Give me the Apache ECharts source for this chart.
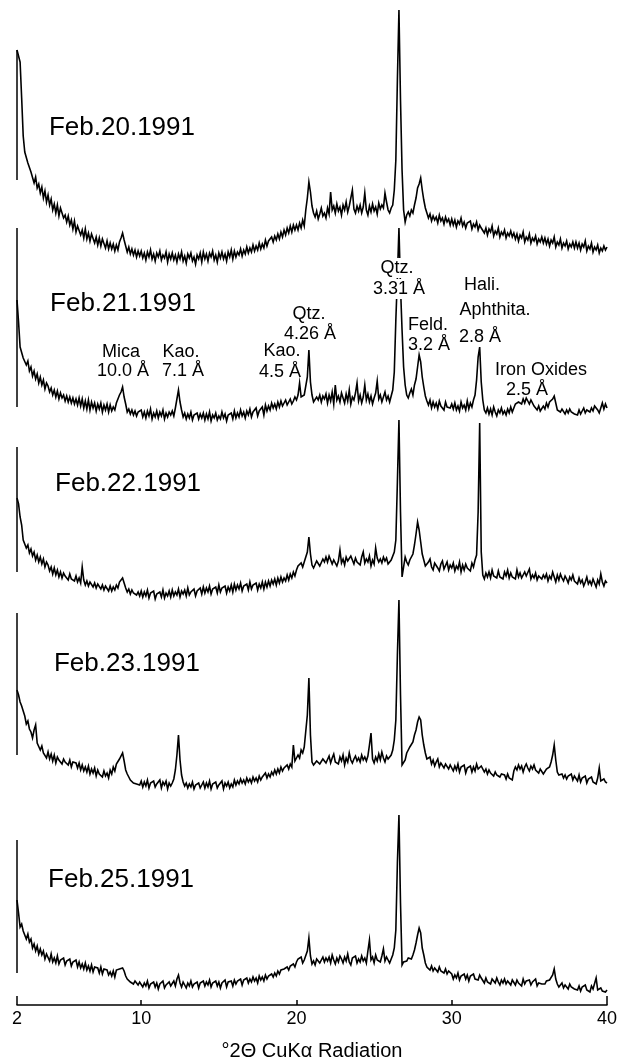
<!DOCTYPE html>
<html><head><meta charset="utf-8">
<script src="https://cdn.jsdelivr.net/npm/echarts@6/dist/echarts.min.js"></script>
<style>html,body{margin:0;padding:0;background:#fff}#c{width:626px;height:1063px}</style>
</head><body><div id="c"></div>
<script>
// x grid of every trace: 2.0 .. 40.0 degrees 2-theta, step 0.1
const thetaStart = 2, thetaStep = 0.1;
const tickValues = [2, 10, 20, 30, 40];
const endTickValues = [2, 40];
const dates = ['Feb.20.1991', 'Feb.21.1991', 'Feb.22.1991', 'Feb.23.1991', 'Feb.25.1991'];
// vertical stacking level of each trace (chart units)
const offsets = [825, 598, 433, 250, 32];
// height of the vertical start bar drawn at 2 deg for each trace
const startBarTops = [130, 179, 125, 142, 133];

// intensities (relative to each trace's level); one row = 2 degrees
const feb20 = [
 130,128,118,82,44,28,30,17,19,8,6,-3,3,-8,-4,-13,-7,-18,-11,-22,
 -15,-25,-19,-30,-24,-33,-25,-36,-28,-30,-38,-35,-42,-36,-45,-40,-49,-41,-52,-46,
 -46,-55,-50,-58,-49,-59,-53,-61,-54,-56,-63,-57,-65,-58,-66,-59,-60,-68,-61,-69,
 -63,-69,-64,-71,-65,-70,-62,-58,-53,-60,-66,-72,-67,-74,-69,-75,-70,-77,-71,-76,
 -71,-78,-73,-80,-72,-77,-70,-79,-74,-81,-73,-77,-71,-80,-75,-78,-72,-82,-74,-79,
 -73,-80,-75,-82,-74,-79,-72,-81,-76,-83,-74,-78,-73,-81,-77,-84,-75,-79,-73,-82,
 -72,-79,-74,-81,-73,-77,-71,-80,-75,-82,-73,-78,-72,-79,-74,-81,-72,-77,-70,-79,
 -71,-77,-72,-75,-69,-76,-70,-74,-67,-73,-68,-72,-65,-71,-66,-70,-63,-69,-64,-68,
 -60,-66,-61,-63,-57,-62,-56,-60,-54,-59,-52,-57,-50,-55,-48,-53,-46,-52,-45,-50,
 -45,-50,-43,-48,-40,-46,-30,-18,-2,-12,-26,-33,-37,-31,-39,-34,-28,-36,-33,-38,
 -28,-34,-12,-30,-26,-33,-24,-31,-27,-35,-25,-30,-22,-32,-26,-24,-10,-29,-33,-26,
 -31,-25,-33,-27,-13,-30,-35,-26,-32,-24,-31,-27,-34,-23,-29,-25,-28,-13,-22,-30,
 -33,-28,-25,-10,20,100,170,80,10,-30,-42,-35,-32,-36,-30,-33,-25,-18,-8,-4,
 2,-10,-20,-28,-33,-38,-34,-41,-36,-40,-37,-43,-35,-41,-38,-44,-37,-42,-39,-45,
 -39,-45,-40,-47,-41,-44,-38,-46,-42,-48,-43,-45,-41,-49,-44,-47,-42,-50,-45,-48,
 -47,-53,-48,-55,-49,-52,-46,-56,-51,-54,-48,-57,-52,-55,-50,-58,-53,-56,-51,-57,
 -53,-59,-54,-61,-55,-58,-52,-62,-57,-60,-54,-63,-58,-61,-56,-64,-59,-62,-57,-63,
 -58,-64,-59,-66,-60,-63,-57,-67,-62,-65,-59,-68,-63,-66,-61,-69,-64,-67,-62,-68,
 -62,-68,-63,-70,-64,-67,-61,-71,-66,-69,-63,-72,-67,-70,-65,-73,-68,-71,-66,-70,
 -67];
const feb21 = [
 107,85,60,58,49,51,42,46,36,40,31,36,28,33,24,30,22,27,18,24,
 21,15,19,12,17,10,16,8,14,9,12,6,11,5,10,4,9,3,8,2,
 9,1,8,-1,6,-2,7,-3,5,-1,4,-4,3,-2,4,-5,2,-3,3,-5,
 2,-4,0,-3,4,6,12,15,20,10,3,-5,-2,-7,-3,-8,-4,-9,-5,-7,
 -3,-10,-5,-11,-4,-9,-2,-12,-6,-10,-4,-11,-5,-9,-3,-12,-6,-10,-5,-8,
 -4,-9,-1,8,17,5,-3,-10,-6,-12,-7,-11,-5,-13,-8,-10,-6,-12,-7,-11,
 -6,-13,-7,-12,-5,-14,-8,-11,-6,-13,-9,-12,-5,-11,-7,-14,-8,-10,-6,-12,
 -4,-11,-6,-10,-3,-9,-5,-11,-4,-8,-2,-10,-5,-7,-1,-9,-4,-6,0,-8,
 2,-4,1,-3,4,-1,3,-2,5,0,6,1,3,7,2,5,8,3,6,10,
 7,12,24,10,8,12,14,30,57,25,12,5,4,10,7,12,5,11,8,13,
 4,12,6,15,3,22,7,11,5,14,9,4,13,6,17,3,10,7,14,24,
 6,12,4,10,22,7,13,5,11,3,9,14,26,8,12,5,10,15,7,11,
 5,11,17,35,87,130,179,120,77,40,22,12,9,14,18,12,22,28,40,52,
 45,30,20,11,6,2,7,-1,5,0,4,-2,6,1,3,-3,5,0,2,-1,
 3,-2,4,-3,1,-4,5,-1,2,-3,6,-2,4,0,7,12,27,50,60,25,
 7,-3,-6,-1,-7,-2,-8,0,-5,-9,-3,-6,-1,-7,-4,-8,-2,-6,0,-5,
 -1,3,1,5,7,3,8,4,9,6,3,7,5,1,0,-3,1,-4,-2,1,
 -2,4,0,5,3,8,11,4,-3,-1,-5,-2,-4,-7,-3,-6,-2,-5,-4,-7,
 -5,-8,-3,-7,-4,-1,-6,-3,-2,-5,-1,-4,1,2,-3,-6,-1,4,-2,3,
 -1];
const feb22 = [
 74,68,55,47,32,33,24,27,19,23,16,20,12,17,10,15,8,13,5,10,
 7,1,5,-2,4,-3,2,-5,0,-6,-1,-4,-3,-8,-2,-7,-5,-9,-4,-10,
 -6,-11,5,-8,-13,-9,-14,-10,-12,-15,-11,-16,-12,-14,-17,-13,-18,-14,-16,-19,
 -14,-19,-15,-18,-13,-16,-10,-8,-6,-11,-16,-20,-17,-22,-18,-21,-19,-23,-20,-24,
 -19,-25,-20,-24,-18,-26,-21,-23,-19,-27,-22,-24,-20,-25,-18,-26,-21,-24,-19,-25,
 -18,-24,-20,-23,-17,-25,-19,-22,-18,-24,-16,-23,-20,-22,-17,-24,-19,-21,-16,-22,
 -15,-21,-16,-20,-14,-22,-17,-19,-15,-21,-13,-20,-16,-18,-14,-21,-15,-19,-13,-20,
 -12,-18,-13,-17,-11,-19,-14,-16,-12,-18,-10,-17,-13,-15,-11,-18,-12,-16,-10,-17,
 -10,-15,-9,-14,-8,-12,-7,-13,-6,-11,-5,-10,-6,-9,-3,-8,-2,-6,0,-4,
 2,6,4,9,5,10,12,20,35,18,7,4,5,11,12,6,8,13,10,15,
 10,16,18,8,12,14,6,11,22,9,13,7,15,11,9,16,12,8,14,10,
 12,7,15,20,9,13,10,16,6,12,8,24,14,10,13,9,15,11,14,8,
 7,12,14,20,32,90,152,60,-5,5,15,10,7,12,14,18,27,38,50,42,
 30,18,12,6,4,10,13,5,2,9,11,4,1,8,11,3,5,10,2,7,
 4,9,1,6,3,10,0,7,2,8,4,6,1,9,5,12,17,60,149,20,
 -3,-7,-1,-5,0,-6,2,-4,-2,-6,1,-5,-3,-7,0,-4,2,-6,-1,-5,
 -3,-7,2,-5,-1,-6,-8,0,-4,-2,3,-7,-3,-6,-1,-8,-4,-2,-7,-3,
 -6,-2,-9,-4,-7,0,-5,-10,-3,-8,-2,-6,-9,-4,-7,-11,-5,-8,-3,-9,
 -9,-12,-6,-11,-8,-14,-10,-5,-12,-9,-13,-7,-11,-15,-8,-12,-2,-10,-14,-9,
 -11];
const feb23 = [
 65,60,53,49,44,39,31,34,26,23,17,25,30,12,11,5,9,2,4,-3,
 3,-4,1,-6,0,-8,-2,-5,-3,-9,-4,-7,-6,-10,-5,-12,-7,-9,-8,-13,
 -8,-15,-10,-16,-12,-17,-11,-19,-14,-18,-13,-21,-15,-19,-17,-22,-16,-21,-18,-23,
 -15,-19,-12,-16,-9,-11,-4,-3,2,-6,-15,-19,-22,-25,-24,-28,-26,-29,-27,-30,
 -26,-32,-27,-31,-25,-33,-28,-30,-26,-32,-29,-31,-25,-33,-27,-30,-26,-34,-28,-31,
 -28,-24,-15,0,20,-5,-20,-27,-31,-28,-33,-29,-32,-27,-34,-30,-31,-28,-33,-30,
 -27,-33,-28,-32,-26,-34,-29,-31,-27,-33,-30,-32,-26,-34,-28,-31,-27,-33,-29,-32,
 -25,-30,-26,-29,-24,-28,-25,-29,-23,-27,-24,-28,-22,-26,-23,-27,-21,-25,-22,-24,
 -18,-23,-19,-22,-17,-20,-15,-19,-14,-18,-12,-16,-13,-15,-10,-14,-9,-12,10,-6,
 -3,0,-3,5,2,8,10,40,77,20,-7,-10,-12,-6,-5,-9,-10,-4,-3,-8,
 -6,-1,-8,-3,1,-7,-5,-9,-2,-6,0,-10,-3,-7,2,-5,-8,-4,-1,-6,
 -3,-7,0,-5,-2,-6,-1,10,22,-4,-8,-2,-6,1,-5,3,-3,-7,-1,-4,
 -5,0,5,15,35,100,155,60,-10,-8,-5,2,5,8,10,13,20,25,33,38,
 35,20,10,2,-4,-6,-2,-9,-5,-11,-7,-4,-12,-8,-6,-13,-9,-7,-14,-10,
 -10,-16,-11,-15,-9,-17,-12,-14,-10,-18,-13,-15,-11,-17,-12,-16,-9,-14,-13,-11,
 -13,-17,-14,-19,-15,-18,-16,-21,-17,-20,-18,-22,-19,-21,-20,-24,-19,-23,-21,-25,
 -16,-12,-15,-10,-14,-11,-17,-12,-9,-13,-16,-11,-14,-10,-15,-13,-18,-14,-16,-19,
 -17,-14,-16,-12,-7,0,10,-5,-17,-20,-22,-19,-23,-20,-24,-21,-22,-19,-25,-21,
 -22,-26,-20,-27,-23,-25,-21,-28,-24,-26,-22,-27,-25,-29,-23,-13,-26,-28,-24,-27,
 -28];
const feb25 = [
 73,60,46,49,42,42,34,39,31,34,25,29,22,27,19,24,18,22,14,19,
 17,12,19,11,15,10,17,9,13,11,15,8,12,10,14,7,11,9,13,6,
 11,5,9,4,10,3,7,2,8,1,6,4,5,0,6,-1,4,2,3,-2,
 1,-3,2,-4,3,1,4,6,5,2,-3,-6,-5,-9,-7,-11,-8,-10,-12,-9,
 -9,-14,-10,-13,-8,-15,-11,-12,-9,-14,-10,-16,-11,-13,-8,-15,-12,-14,-9,-13,
 -11,-8,-13,-6,-2,-10,-14,-9,-12,-15,-10,-13,-8,-14,-11,-12,-9,-15,-10,-12,
 -8,-13,-9,-12,-7,-14,-10,-11,-8,-13,-9,-15,-10,-12,-7,-14,-9,-11,-8,-13,
 -7,-11,-8,-10,-6,-12,-7,-9,-5,-10,-6,-9,-4,-8,-5,-10,-3,-7,-4,-8,
 -2,-6,-3,-5,-1,-4,0,-3,2,-1,3,1,4,2,6,3,7,5,9,6,
 11,14,12,16,10,13,15,22,35,17,9,12,8,14,15,10,12,16,11,15,
 12,16,10,18,13,9,15,11,17,14,10,16,12,19,11,8,15,13,17,10,
 14,11,17,12,15,10,22,33,13,16,10,18,13,15,11,17,24,12,16,13,
 10,14,18,25,43,110,158,70,8,11,13,12,15,13,14,18,23,30,38,45,
 40,25,18,10,6,8,3,7,2,5,4,1,6,2,3,0,4,-1,2,0,
 -1,-6,-2,-5,0,-7,-3,-4,-1,-6,-2,-8,-3,-5,-1,-6,-4,-7,-2,-5,
 -6,-10,-5,-9,-7,-11,-6,-8,-10,-5,-9,-12,-7,-10,-6,-11,-8,-9,-12,-7,
 -8,-12,-7,-10,-9,-13,-6,-11,-8,-10,-7,-12,-9,-11,-6,-13,-10,-8,-11,-9,
 -11,-8,-10,-7,-6,-2,4,-6,-11,-14,-12,-10,-15,-12,-13,-16,-11,-14,-13,-16,
 -15,-17,-13,-18,-14,-16,-12,-17,-15,-19,-13,-16,-14,-5,-17,-19,-15,-18,-16,-19,
 -17];

// date label anchors: left edge theta, level relative to the trace
const dateTheta = [4.06, 4.13, 4.45, 4.38, 4.0];
const dateRel = [52, 103, 88, 91, 93];

// peak annotations (text centre, chart units)
const peakText  = ['Mica','10.0 Å','Kao.','7.1 Å','Kao.','4.5 Å','Qtz.','4.26 Å','Qtz.','3.31 Å','Feld.','3.2 Å','Hali.','Aphthita.','2.8 Å','Iron Oxides','2.5 Å'];
const peakTheta = [8.70, 8.83, 12.56, 12.69, 19.07, 18.94, 20.81, 20.87, 26.48, 26.60, 28.47, 28.53, 31.95, 32.79, 31.82, 35.75, 34.85];
const peakValue = [653, 634, 653, 634, 654, 633, 691, 671, 737, 716, 680, 660, 720, 695, 668, 635, 615];
const peakMasked = [false,false,false,false,false,false,false,false,true,true,false,false,false,false,false,false,false];

const font = '"Liberation Sans", Arial, Helvetica, sans-serif';
const ink = '#000';
const traces = [feb20, feb21, feb22, feb23, feb25];
const nPts = Math.round((40 - thetaStart) / thetaStep) + 1;
traces.forEach((t, i) => { if (t.length !== nPts) throw new Error('trace ' + i + ' has ' + t.length + ' values, expected ' + nPts); });

const series = [];
traces.forEach((vals, i) => {
  series.push({
    type: 'line', name: dates[i],
    data: vals.map((v, j) => [+(thetaStart + thetaStep * j).toFixed(2), offsets[i] + v]),
    symbol: 'none', showSymbol: false, silent: true, animation: false, z: 3,
    lineStyle: { color: ink, width: 1.6, join: 'miter' }
  });
  series.push({
    type: 'line',
    data: [[thetaStart, offsets[i]], [thetaStart, offsets[i] + startBarTops[i]]],
    symbol: 'none', silent: true, animation: false, z: 3,
    lineStyle: { color: ink, width: 1.5 }
  });
});
series.push({
  type: 'scatter', symbolSize: 0, silent: true, animation: false, z: 10,
  itemStyle: { opacity: 1 },
  data: dates.map((d, i) => ({ value: [dateTheta[i], offsets[i] + dateRel[i]], label: { formatter: d } })),
  label: { show: true, position: 'right', distance: 0, fontSize: 26, color: ink, opacity: 1, fontFamily: font }
});
series.push({
  type: 'scatter', symbolSize: 0, silent: true, animation: false, z: 10,
  itemStyle: { opacity: 1 },
  data: peakText.map((t, i) => ({
    value: [peakTheta[i], peakValue[i]],
    label: peakMasked[i] ? { formatter: t, backgroundColor: '#fff', padding: [1, 2] } : { formatter: t }
  })),
  label: { show: true, position: 'inside', fontSize: 18, color: ink, opacity: 1, fontFamily: font }
});

const chart = echarts.init(document.getElementById('c'), null, { renderer: 'canvas' });
chart.setOption({
  animation: false,
  backgroundColor: '#fff',
  grid: { left: 17, right: 19, top: 0, bottom: 58, containLabel: false, outerBoundsMode: 'none' },
  xAxis: [{
    type: 'value', min: 2, max: 40,
    axisLine: { show: true, lineStyle: { color: ink, width: 1.5 } },
    axisTick: { show: true, inside: true, length: 5, customValues: tickValues, lineStyle: { color: ink, width: 1.5 } },
    axisLabel: { show: true, customValues: tickValues, showMinLabel: true, showMaxLabel: true, fontSize: 18, color: ink, fontFamily: font, margin: 5 },
    splitLine: { show: false },
    name: '°2Θ CuKα Radiation', nameLocation: 'middle', nameGap: 36,
    nameTextStyle: { fontSize: 20, color: ink, fontFamily: font }
  }, {
    type: 'value', min: 2, max: 40, position: 'bottom', offset: 0,
    axisLine: { show: false },
    axisTick: { show: true, inside: true, length: 9, customValues: endTickValues, lineStyle: { color: ink, width: 1.5 } },
    axisLabel: { show: false }, splitLine: { show: false }
  }],
  yAxis: { type: 'value', min: 0, max: 1005, show: false },
  series: series
});
</script>
</body></html>
